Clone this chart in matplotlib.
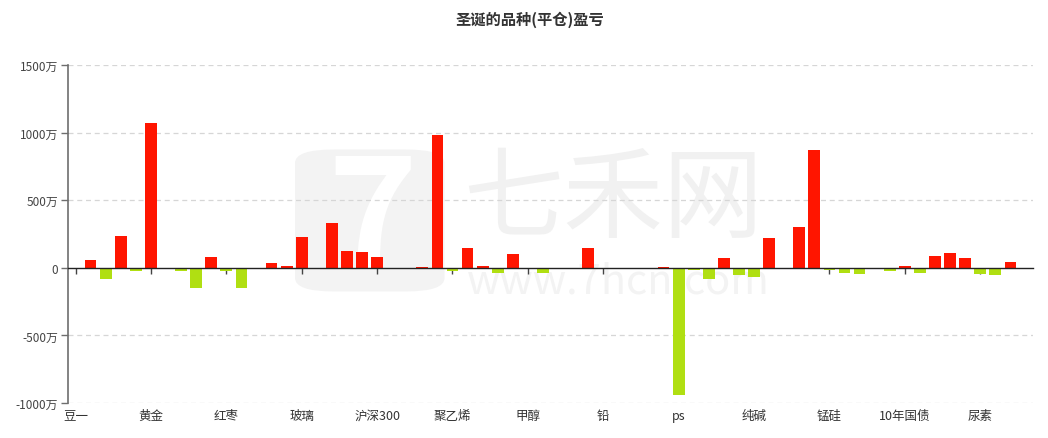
import matplotlib
matplotlib.use("Agg")
import matplotlib.pyplot as plt
from matplotlib.patches import FancyBboxPatch
from matplotlib.ticker import FixedLocator, FuncFormatter

plt.rcParams["font.family"] = ["Noto Sans CJK SC", "DejaVu Sans"]

RED = "#ff1500"
GREEN = "#b0df12"
TEXT = "#333333"
AXIS = "#6e6e6e"

# 64 varieties, only every fifth one is labelled on the axis
labels = ["豆一", "黄金", "红枣", "玻璃", "沪深300", "聚乙烯", "甲醇",
          "铅", "ps", "纯碱", "锰硅", "10年国债", "尿素"]

# profit / loss in 万 (10k yuan)
pnl = [
    0, 61, -81, 233, -24, 1071, 0, -20, -147, 78,
    -22, -147, -3, 34, 12, 225, 0, 331, 127, 118,
    81, -7, -5, 7, 980, -20, 147, 12, -39, 103,
    -12, -37, -12, -10, 147, 0, 0, -3, 0, 3,
    -939, -15, -86, 71, -56, -69, 218, -4, 301, 868,
    -18, -39, -47, 0, -27, 12, -39, 86, 113, 71,
    -47, -51, 42, 0,
]
n = len(pnl)
x = list(range(n))
colors = [RED if v >= 0 else GREEN for v in pnl]

fig = plt.figure(figsize=(10.48, 4.39), dpi=100)
ax = fig.add_axes([68 / 1048, 35 / 439, (1033 - 68) / 1048, (404 - 66) / 439])

# faint site watermark (logo block + name + url)
logo = FancyBboxPatch((227 / 965, 0.33), 0.155, 0.42, transform=ax.transAxes,
                      boxstyle="round,pad=0,rounding_size=0.04",
                      facecolor="#f3f3f3", edgecolor="none", zorder=0)
ax.add_patch(logo)
ax.text(0.315, 0.53, "7", transform=ax.transAxes, ha="center", va="center",
        fontsize=110, fontweight="bold", color="white", zorder=0)
ax.text(0.565, 0.60, "七禾网", transform=ax.transAxes, ha="center", va="center",
        fontsize=72, color="#f1f1f1", zorder=0)
ax.text(0.57, 0.36, "www.7hcn.com", transform=ax.transAxes, ha="center", va="center",
        fontsize=30, color="#f3f3f3", zorder=0)

ax.bar(x, pnl, width=0.78, color=colors, zorder=3)

ax.set_xlim(-0.5, n - 0.5)
ax.set_ylim(-1000, 1500)

yticks = [-1000, -500, 0, 500, 1000, 1500]
ax.yaxis.set_major_locator(FixedLocator(yticks))
ax.yaxis.set_major_formatter(FuncFormatter(lambda v, p: "0" if v == 0 else f"{v:.0f}万"))
ax.tick_params(axis="y", labelsize=8.5, labelcolor="#444444", color=AXIS, length=5, width=1, pad=2)
for y in yticks:
    if y != 0:
        ax.axhline(y, color="#d6d6d6", linestyle=(0, (4, 3)), linewidth=0.9, zorder=1)

for s in ["top", "right"]:
    ax.spines[s].set_visible(False)
ax.spines["left"].set_color(AXIS)
ax.spines["left"].set_linewidth(1.2)

# category axis drawn at zero, labels sit at the bottom
ax.spines["bottom"].set_position(("data", 0))
ax.spines["bottom"].set_color("#222222")
ax.spines["bottom"].set_linewidth(1.0)
ax.spines["bottom"].set_zorder(4)
tick_pos = list(range(0, n, 5))
ax.set_xticks(tick_pos)
ax.set_xticklabels([])
ax.tick_params(axis="x", length=4, width=1, color="#444444", direction="out")

sec = ax.secondary_xaxis("bottom")
sec.set_xticks(tick_pos)
sec.set_xticklabels(labels)
sec.spines["bottom"].set_visible(False)
sec.tick_params(axis="x", length=0, labelsize=9, labelcolor=TEXT, pad=4)

fig.text(530 / 1048, 1 - 20 / 439, "圣诞的品种(平仓)盈亏", ha="center", va="center",
         fontsize=11, fontweight="bold", color=TEXT)

fig.savefig("out.png", dpi=100, facecolor="white")
